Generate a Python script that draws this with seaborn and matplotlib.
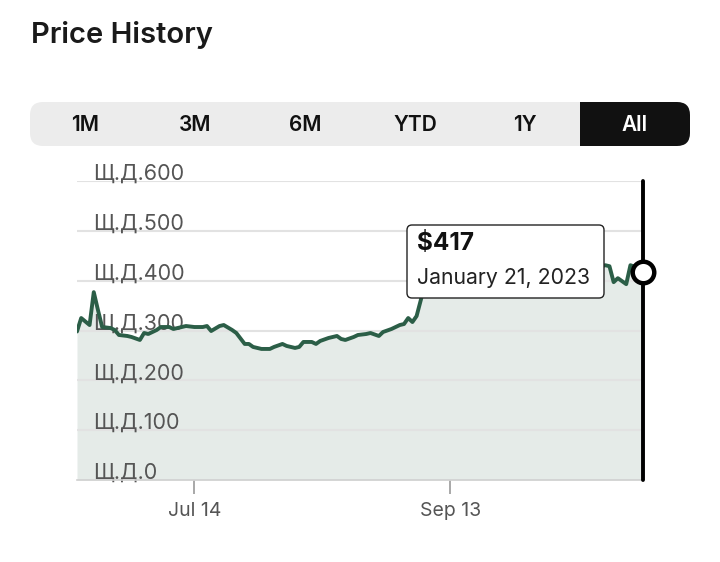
import numpy as np
import pandas as pd
import matplotlib
matplotlib.use("Agg")
import matplotlib.pyplot as plt
import matplotlib.dates as mdates
from matplotlib.patches import FancyBboxPatch
import seaborn as sns

# ---------------- data ----------------
dates = [
    "2022-06-16", "2022-06-17", "2022-06-19", "2022-06-20", "2022-06-21", "2022-06-22",
    "2022-06-24", "2022-06-25", "2022-06-26", "2022-06-28", "2022-06-29", "2022-07-01",
    "2022-07-02", "2022-07-03", "2022-07-05", "2022-07-06", "2022-07-08", "2022-07-09",
    "2022-07-11", "2022-07-12", "2022-07-14", "2022-07-16", "2022-07-17", "2022-07-18",
    "2022-07-20", "2022-07-21", "2022-07-23", "2022-07-24", "2022-07-26", "2022-07-27",
    "2022-07-28", "2022-07-30", "2022-08-01", "2022-08-02", "2022-08-04", "2022-08-05",
    "2022-08-07", "2022-08-08", "2022-08-09", "2022-08-11", "2022-08-12", "2022-08-13",
    "2022-08-15", "2022-08-17", "2022-08-18", "2022-08-19", "2022-08-21", "2022-08-22",
    "2022-08-24", "2022-08-25", "2022-08-27", "2022-08-28", "2022-08-30", "2022-09-01",
    "2022-09-02", "2022-09-03", "2022-09-04", "2022-09-05", "2022-09-06", "2022-09-07",
    "2022-09-09", "2022-09-12", "2022-09-16", "2022-09-20", "2022-09-24", "2022-09-28",
    "2022-10-02", "2022-10-06", "2022-10-10", "2022-10-14", "2022-10-17", "2022-10-20",
    "2022-10-21", "2022-10-22", "2022-10-23", "2022-10-25", "2022-10-26", "2022-10-28",
    "2022-10-29",
]
prices = [
    298, 325, 311, 377, 341, 307,
    305, 301, 291, 289, 287, 281,
    295, 293, 301, 307, 307, 303,
    307, 309, 307, 307, 309, 299,
    309, 311, 301, 295, 273, 273,
    267, 263, 263, 267, 273, 269,
    265, 267, 277, 277, 273, 279,
    285, 289, 283, 281, 287, 291,
    293, 295, 289, 297, 303, 311,
    313, 325, 317, 329, 361, 397,
    420, 432, 415, 428, 440, 425,
    433, 418, 430, 436, 424, 431,
    429, 397, 405, 393, 431, 425,
    417,
]
y_ticks = [0, 100, 200, 300, 400, 500, 600]
y_tick_labels = ["Щ.Д.0", "Щ.Д.100", "Щ.Д.200", "Щ.Д.300", "Щ.Д.400", "Щ.Д.500", "Щ.Д.600"]
x_tick_dates = ["2022-07-14", "2022-09-13"]
x_tick_labels = ["Jul 14", "Sep 13"]
ranges = ["1M", "3M", "6M", "YTD", "1Y", "All"]
selected_range = "All"
title = "Price History"
tooltip_price = "$417"
tooltip_date = "January 21, 2023"

df = pd.DataFrame({"date": pd.to_datetime(dates), "price": prices})

# ---------------- style ----------------
sns.set_theme(style="white")
plt.rcParams["font.family"] = ["Inter", "Roboto", "DejaVu Sans"]

W, H = 720, 562
fig = plt.figure(figsize=(W / 100, H / 100), dpi=100)

# background overlay in pixel coordinates
bg = fig.add_axes([0, 0, 1, 1], zorder=0)
bg.set_xlim(0, W)
bg.set_ylim(H, 0)
bg.axis("off")

bg.text(31, 35, title, fontsize=21, fontweight="semibold", color="#1a1a1a",
        ha="left", va="center")

# range selector
bx0, bx1, by0, by1 = 30, 690, 102, 146
bg.add_patch(FancyBboxPatch((bx0, by0), bx1 - bx0, by1 - by0,
                            boxstyle="round,pad=0,rounding_size=13",
                            fc="#ececec", ec="none"))
seg_w = (bx1 - bx0) / len(ranges)
for i, r in enumerate(ranges):
    cx = bx0 + seg_w * (i + 0.5)
    if r == selected_range:
        bg.add_patch(FancyBboxPatch((bx0 + seg_w * i, by0), seg_w, by1 - by0,
                                    boxstyle="round,pad=0,rounding_size=13",
                                    fc="#111111", ec="none"))
        # square off left corners
        bg.add_patch(plt.Rectangle((bx0 + seg_w * i, by0), 14, by1 - by0,
                                   fc="#111111", ec="none"))
        col = "white"
    else:
        col = "#111111"
    bg.text(cx, (by0 + by1) / 2 + 1, r, fontsize=15, fontweight="semibold",
            color=col, ha="center", va="center")

# ---------------- main chart ----------------
left, right, top, bottom = 77, 643, 181, 480
ax = fig.add_axes([left / W, 1 - bottom / H, (right - left) / W, (bottom - top) / H], zorder=1)
ax.patch.set_alpha(0)

ax.fill_between(df["date"], 0, df["price"], color="#e5ebe8", lw=0, zorder=1)
for yv in y_ticks[1:]:
    ax.axhline(yv, color="#e2e2e2", lw=1.5, zorder=1.5)
sns.lineplot(data=df, x="date", y="price", ax=ax, color="#2b5e47", lw=2.8, zorder=3)

ax.set_ylim(0, 600)
ax.set_xlim(df["date"].iloc[0], df["date"].iloc[-1])
ax.set_yticks(y_ticks)
ax.set_yticklabels([])
ax.tick_params(axis="y", length=0)
for yv, lab in zip(y_ticks, y_tick_labels):
    ax.text(0.028, yv + 2, lab, transform=ax.get_yaxis_transform(),
            fontsize=15.5, color="#555555", ha="left", va="baseline", zorder=2.5)

ax.set_xticks(pd.to_datetime(x_tick_dates))
ax.set_xticklabels(x_tick_labels, fontsize=14, color="#555555")
ax.tick_params(axis="x", length=10, width=1.2, color="#999999", pad=6, bottom=True)
ax.set_xlabel("")
ax.set_ylabel("")
for s in ["top", "right", "left"]:
    ax.spines[s].set_visible(False)
ax.spines["bottom"].set_color("#d0d0d0")
ax.spines["bottom"].set_linewidth(1.2)

# hover line and marker on the last point
last_d = df["date"].iloc[-1]
last_p = df["price"].iloc[-1]
ax.axvline(last_d, color="black", lw=2.8, zorder=4, clip_on=False)
ax.plot([last_d], [last_p], "o", ms=15.5, mfc="white", mec="black", mew=3.2,
        zorder=5, clip_on=False)

# ---------------- tooltip ----------------
tp = fig.add_axes([0, 0, 1, 1], zorder=2)
tp.set_xlim(0, W)
tp.set_ylim(H, 0)
tp.axis("off")
tp.add_patch(FancyBboxPatch((407, 225), 197, 73,
                            boxstyle="round,pad=0,rounding_size=5",
                            fc="white", ec="#222222", lw=1))
tp.text(417, 244, tooltip_price, fontsize=17.5, fontweight="bold", color="#111111",
        ha="left", va="center")
tp.text(417, 278, tooltip_date, fontsize=15.3, color="#222222", ha="left", va="center")

fig.savefig("out.png", dpi=100)
